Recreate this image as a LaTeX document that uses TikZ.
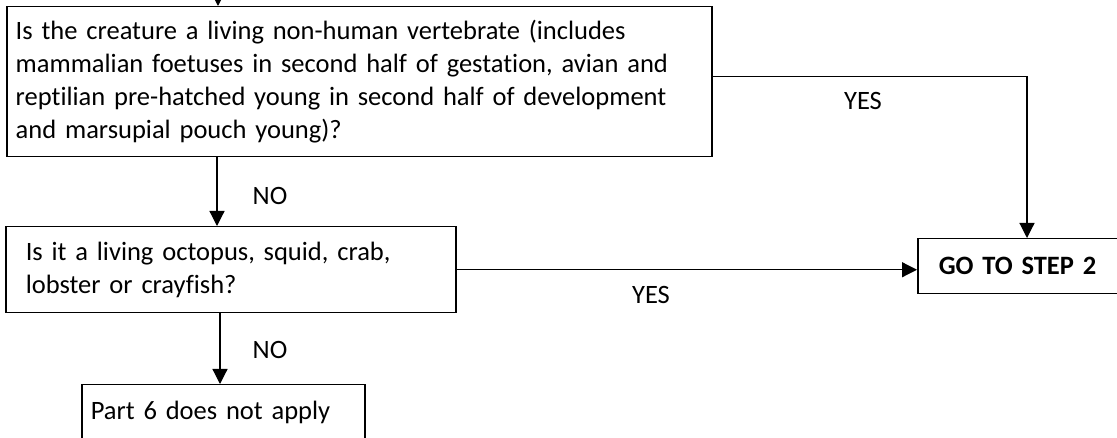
\documentclass[tikz,border=0pt]{standalone}
\usepackage{fontspec}
\setmainfont{Carlito}[Ligatures=NoCommon]
\usetikzlibrary{arrows.meta}
\begin{document}
\begin{tikzpicture}[x=1pt,y=-1pt,
  box/.style={draw,line width=1.5pt,anchor=north west,align=left,font=\fontsize{26.5}{33}\selectfont},
  lbl/.style={font=\fontsize{26.5}{33}\selectfont},
  arr/.style={line width=1.2pt,-{Triangle[length=15pt,width=15pt]}}]
\useasboundingbox (0,0) rectangle (1117,438);
\clip (0,0) rectangle (1117,438);
\node[box,minimum width=705pt,minimum height=150pt,text width=687pt,inner xsep=9pt] (q1) at (6,6)
  {Is the creature a living non-human vertebrate (includes\\
   mammalian foetuses in second half of gestation, avian and\\
   reptilian pre-hatched young in second half of development\\
   and marsupial pouch young)?};
\node[box,minimum width=450pt,minimum height=86pt,text width=410pt,inner xsep=20pt] (q2) at (5,226)
  {Is it a living octopus, squid, crab,\\ lobster or crayfish?};
\node[box,minimum width=283pt,minimum height=56pt,text width=265pt,inner xsep=9pt] (res) at (81,384)
  {Part 6 does not apply};
\node[box,minimum width=220pt,minimum height=55pt,text width=178pt,inner xsep=21pt,font=\fontsize{26.5}{33}\selectfont\bfseries] (go) at (917,238)
  {GO TO STEP 2};
\coordinate (in) at (218,-20);
\coordinate (a1) at (217,0);
\coordinate (a2) at (220,0);
\coordinate (gx) at (1027,0);
\draw[arr] (in) -- (in |- q1.north);
\draw[arr] (a1 |- q1.south) -- (a1 |- q2.north);
\draw[arr] (a2 |- q2.south) -- (a2 |- res.north);
\draw[arr] ([yshift=5pt]q1.east) -| (gx |- go.north);
\draw[arr] (q2.east) -- (q2.east -| go.west);
\node[lbl] (yes1) at (863,101) {YES};
\node[lbl] (yes2) at (651,295) {YES};
\node[lbl] (no1) at (270,196) {NO};
\node[lbl] (no2) at (270,350) {NO};
\end{tikzpicture}
\end{document}
